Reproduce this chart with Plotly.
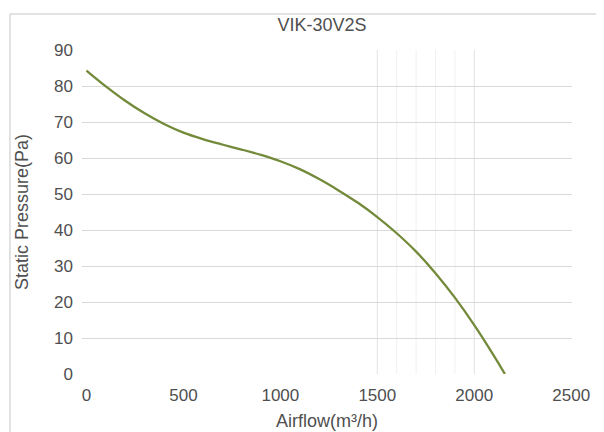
import plotly.graph_objects as go

# Data
airflow = [0, 100, 200, 300, 400, 500, 600, 700, 800, 900, 1000, 1100, 1200,
           1300, 1400, 1500, 1600, 1700, 1800, 1900, 2000, 2100, 2158]
pressure = [84.3, 79.9, 75.9, 72.4, 69.45, 67.05, 65.25, 63.75, 62.35, 60.85, 59.1,
            56.9, 54.15, 51.0, 47.55, 43.6, 39.1, 34.0, 28.0, 21.2, 13.6, 5.2, 0.0]

x_ticks = [0, 500, 1000, 1500, 2000, 2500]
y_ticks = [0, 10, 20, 30, 40, 50, 60, 70, 80, 90]
v_grid_major = [1500, 2000]
v_grid_minor = [1600, 1700, 1800, 1900]

title_text = "VIK-30V2S"
x_title = "Airflow(m³/h)"
y_title = "Static Pressure(Pa)"

FONT = "Liberation Sans, Arial, sans-serif"
GREY = "#4F4F4F"

fig = go.Figure()
fig.add_trace(go.Scatter(
    x=airflow, y=pressure, mode="lines",
    line=dict(color="#738A3A", width=2.3, shape="spline", smoothing=1.0),
    showlegend=False, hoverinfo="x+y",
))

shapes = []
for v in v_grid_minor:
    shapes.append(dict(type="line", xref="x", yref="paper", x0=v, x1=v, y0=0, y1=1,
                       line=dict(color="#F0F0F0", width=1), layer="below"))
for v in v_grid_major:
    shapes.append(dict(type="line", xref="x", yref="paper", x0=v, x1=v, y0=0, y1=1,
                       line=dict(color="#E2E2E2", width=1), layer="below"))
# outer chart frame (top and left edges visible in the reference)
shapes.append(dict(type="line", xref="paper", yref="paper", x0=-0.147, x1=1.2,
                   y0=1.111, y1=1.111, line=dict(color="#D9D9D9", width=1.5)))
shapes.append(dict(type="line", xref="paper", yref="paper", x0=-0.147, x1=-0.147,
                   y0=-0.3, y1=1.111, line=dict(color="#D9D9D9", width=1.5)))

fig.update_layout(
    width=604, height=432,
    margin=dict(l=74, r=40, t=42, b=66),
    paper_bgcolor="white", plot_bgcolor="white",
    font=dict(family=FONT, color=GREY, size=17),
    title=dict(text=title_text, xref="container", x=0.52, xanchor="center",
               yref="container", y=0.962, yanchor="middle",
               font=dict(family=FONT, size=18, color=GREY)),
    shapes=shapes,
    xaxis=dict(
        range=[-23, 2504], tickvals=x_ticks, ticktext=[str(v) for v in x_ticks],
        showgrid=False, zeroline=False, showline=False, ticks="",
        tickfont=dict(size=17, color=GREY), ticklabelstandoff=9,
        title=dict(text=x_title, font=dict(size=18, color=GREY), standoff=10),
        automargin=False,
    ),
    yaxis=dict(
        range=[0, 90], tickvals=y_ticks, ticktext=[str(v) for v in y_ticks],
        showgrid=True, gridcolor="#D9D9D9", gridwidth=1, zeroline=False,
        showline=False, ticks="",
        tickfont=dict(size=17, color=GREY), ticklabelstandoff=8,
        title=dict(text=y_title, font=dict(size=18, color=GREY), standoff=20),
        automargin=False,
    ),
)

fig.write_html("out.html")
